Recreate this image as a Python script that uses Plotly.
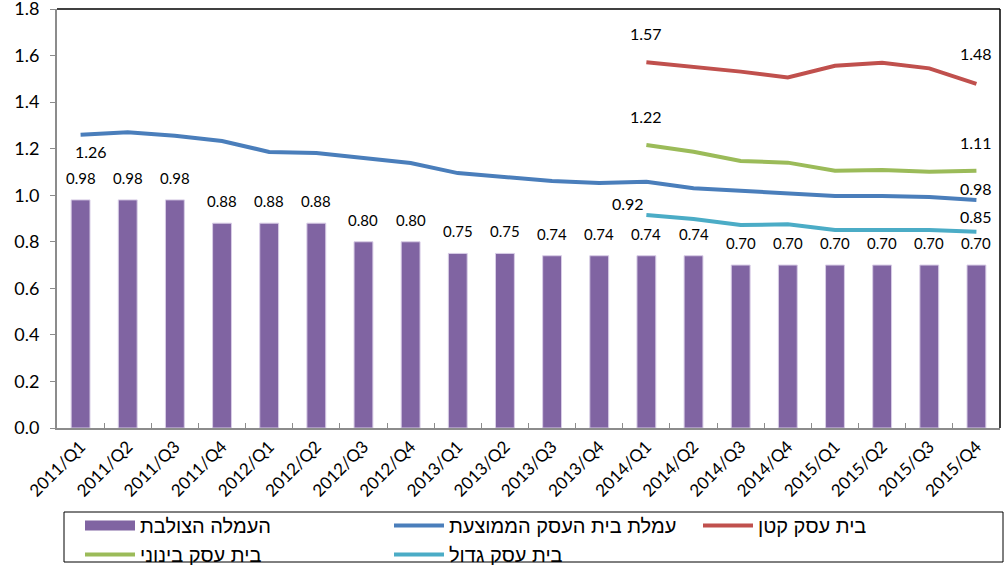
import plotly.graph_objects as go

quarters = ["2011/Q1", "2011/Q2", "2011/Q3", "2011/Q4",
            "2012/Q1", "2012/Q2", "2012/Q3", "2012/Q4",
            "2013/Q1", "2013/Q2", "2013/Q3", "2013/Q4",
            "2014/Q1", "2014/Q2", "2014/Q3", "2014/Q4",
            "2015/Q1", "2015/Q2", "2015/Q3", "2015/Q4"]

interchange = [0.98, 0.98, 0.98, 0.88, 0.88, 0.88, 0.80, 0.80, 0.75, 0.75,
               0.74, 0.74, 0.74, 0.74, 0.70, 0.70, 0.70, 0.70, 0.70, 0.70]
avg_fee = [1.26, 1.27, 1.255, 1.233, 1.186, 1.181, 1.16, 1.138, 1.095, 1.078,
           1.061, 1.052, 1.058, 1.03, 1.018, 1.009, 0.997, 0.997, 0.992, 0.98]
small_q = quarters[12:]
small = [1.571, 1.552, 1.531, 1.506, 1.556, 1.569, 1.545, 1.478]
medium = [1.216, 1.187, 1.147, 1.14, 1.105, 1.108, 1.101, 1.105]
large = [0.915, 0.898, 0.872, 0.875, 0.851, 0.851, 0.851, 0.843]

y_ticks = [0.0, 0.2, 0.4, 0.6, 0.8, 1.0, 1.2, 1.4, 1.6, 1.8]

names = ["העמלה הצולבת", "עמלת בית העסק הממוצעת", "בית עסק קטן", "בית עסק בינוני", "בית עסק גדול"]
colors = ["#8064A2", "#4A7EBB", "#C0504D", "#9BBB59", "#4BACC6"]

FONT = "Lato"
HEB = "Liberation Sans"

W, H = 1005, 565
L, R, T, B = 57, 1000, 9, 428   # plot area in page pixels

fig = go.Figure()
# legend swatch for the bar series (wide rectangle as in the reference)
fig.add_trace(go.Scatter(x=[None], y=[None], name=names[0], mode="lines",
                         legendgroup="bars", line=dict(color=colors[0], width=10)))
fig.add_trace(go.Bar(x=quarters, y=interchange, name=names[0], width=0.4,
                     legendgroup="bars", showlegend=False,
                     marker=dict(color=colors[0], line=dict(color="#D8CDE6", width=1))))
fig.add_trace(go.Scatter(x=quarters, y=avg_fee, name=names[1], mode="lines",
                         line=dict(color=colors[1], width=4)))
fig.add_trace(go.Scatter(x=small_q, y=small, name=names[2], mode="lines",
                         line=dict(color=colors[2], width=4)))
fig.add_trace(go.Scatter(x=small_q, y=medium, name=names[3], mode="lines",
                         line=dict(color=colors[3], width=4)))
fig.add_trace(go.Scatter(x=small_q, y=large, name=names[4], mode="lines",
                         line=dict(color=colors[4], width=4)))

ann = []
for q, v in zip(quarters, interchange):
    ann.append(dict(x=q, y=v, text=f"{v:.2f}", showarrow=False, yshift=22,
                    font=dict(size=15, color="black", family=FONT)))

def lab(series_x, series_y, idx, xs, ys, txt=None):
    v = series_y[idx]
    return dict(x=series_x[idx], y=v, text=txt if txt else f"{v:.2f}",
                showarrow=False, xshift=xs, yshift=ys,
                font=dict(size=16, color="black", family=FONT))

ann += [
    lab(quarters, avg_fee, 0, 10, -17),
    lab(quarters, avg_fee, -1, 0, 11),
    lab(small_q, small, 0, 0, 29),
    lab(small_q, small, -1, 0, 30),
    lab(small_q, medium, 0, 0, 28),
    lab(small_q, medium, -1, 0, 28, "1.11"),
    lab(small_q, large, 0, -18, 12),
    lab(small_q, large, -1, 0, 15, "0.85"),
]

pw, ph = R - L, B - T
def px(x):
    return (x - L) / pw
def py(y):
    return (B - y) / ph

shapes = [
    dict(type="line", xref="paper", yref="paper", x0=0, x1=1, y0=1, y1=1,
         line=dict(color="black", width=1.5)),
    dict(type="line", xref="paper", yref="paper", x0=1, x1=1, y0=0, y1=1,
         line=dict(color="black", width=1.5)),
    # legend frame
    dict(type="rect", xref="paper", yref="paper", x0=px(64), x1=px(1003),
         y0=py(562), y1=py(512), line=dict(color="black", width=1)),
]

fig.update_layout(
    width=W, height=H,
    margin=dict(l=L, r=W - R, t=T, b=H - B, autoexpand=False),
    plot_bgcolor="white", paper_bgcolor="white",
    font=dict(family=FONT, color="black"),
    annotations=ann, shapes=shapes,
    showlegend=True,
    bargap=0.6,
    legend=dict(orientation="h", xref="container", yref="container",
                x=80 / W, y=1 - 506 / H, xanchor="left", yanchor="top",
                entrywidth=244, entrywidthmode="pixels", itemwidth=50,
                borderwidth=0, bgcolor="rgba(0,0,0,0)", tracegroupgap=0,
                font=dict(size=20, family=HEB, color="black"),
                traceorder="normal"),
)
fig.update_xaxes(type="category", showline=True, linecolor="#8C8C8C", linewidth=2,
                 ticks="inside", tickson="boundaries", ticklen=5, tickcolor="#8C8C8C",
                 tickangle=-45, tickfont=dict(size=17, family=FONT, color="black"),
                 showgrid=False, automargin=False)
fig.update_yaxes(range=[0, 1.8], tickmode="array", tickvals=y_ticks,
                 ticktext=[f"{v:.1f}" for v in y_ticks], showline=True,
                 linecolor="#8C8C8C", linewidth=2, ticks="outside", ticklen=5,
                 tickcolor="#8C8C8C", showgrid=False, zeroline=False, automargin=False,
                 ticklabelstandoff=7, ticklabeloverflow="allow",
                 tickfont=dict(size=18, family=FONT, color="black"))

fig.write_html("out.html", config={"displayModeBar": False},
               post_script="document.body.style.margin='0';document.body.style.overflow='hidden';")
